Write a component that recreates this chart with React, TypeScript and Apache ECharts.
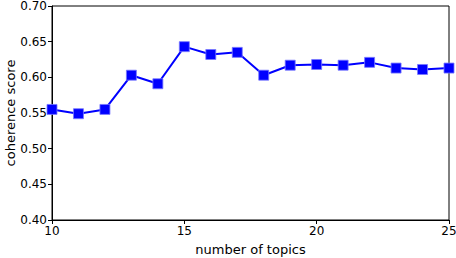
import React, { useEffect, useRef } from "react";
import * as echarts from "echarts";

const topics = [10, 11, 12, 13, 14, 15, 16, 17, 18, 19, 20, 21, 22, 23, 24, 25];
const coherence = [0.555, 0.549, 0.555, 0.603, 0.591, 0.643, 0.632, 0.635, 0.603, 0.617, 0.618, 0.617, 0.621, 0.613, 0.611, 0.613];
const xTicks = [10, 15, 20, 25];
const yTicks = [0.4, 0.45, 0.5, 0.55, 0.6, 0.65, 0.7];

export default function App() {
  const ref = useRef<HTMLDivElement>(null);
  useEffect(() => {
    const chart = echarts.init(ref.current!, null, { renderer: "svg" });
    const font = "DejaVu Sans";
    chart.setOption({
      animation: false,
      grid: {
        left: 52,
        right: 7,
        top: 6,
        bottom: 38,
        containLabel: false,
        outerBoundsMode: "none",
        show: true,
        borderColor: "#000",
        borderWidth: 1,
        backgroundColor: "#fff",
      },
      xAxis: {
        type: "value",
        min: 10,
        max: 25,
        interval: 5,
        name: "number of topics",
        nameLocation: "middle",
        nameGap: 23,
        nameMoveOverlap: false,
        nameTextStyle: { fontFamily: font, fontSize: 13, color: "#000" },
        axisLine: { show: true, onZero: false, lineStyle: { color: "#000", width: 1 } },
        axisTick: { show: true, inside: false, length: 4, lineStyle: { color: "#000" } },
        axisLabel: {
          fontFamily: font,
          fontSize: 12,
          color: "#000",
          margin: 5,
          formatter: (v: number) => (xTicks.includes(v) ? String(v) : ""),
        },
        splitLine: { show: false },
      },
      yAxis: {
        type: "value",
        min: 0.4,
        max: 0.7,
        interval: 0.05,
        name: "coherence score",
        nameLocation: "middle",
        nameGap: 35,
        nameRotate: 90,
        nameMoveOverlap: false,
        nameTextStyle: { fontFamily: font, fontSize: 13, color: "#000" },
        axisLine: { show: true, onZero: false, lineStyle: { color: "#000", width: 1 } },
        axisTick: { show: true, inside: false, length: 4, lineStyle: { color: "#000" } },
        axisLabel: {
          fontFamily: font,
          fontSize: 12,
          color: "#000",
          margin: 5,
          formatter: (v: number) => {
            const t = yTicks.find((y) => Math.abs(y - v) < 1e-9);
            return t !== undefined ? t.toFixed(2) : "";
          },
        },
        splitLine: { show: false },
      },
      series: [
        {
          type: "line",
          data: topics.map((t, i) => [t, coherence[i]]),
          symbol: "rect",
          symbolSize: 10,
          showSymbol: true,
          clip: false,
          lineStyle: { color: "#0000ff", width: 2 },
          itemStyle: { color: "#0000ff", borderColor: "rgba(120,120,255,0.8)", borderWidth: 1 },
        },
      ],
    });
    return () => chart.dispose();
  }, []);
  return <div ref={ref} style={{ width: 456, height: 258, position: "absolute", left: 0, top: 0 }} />;
}
